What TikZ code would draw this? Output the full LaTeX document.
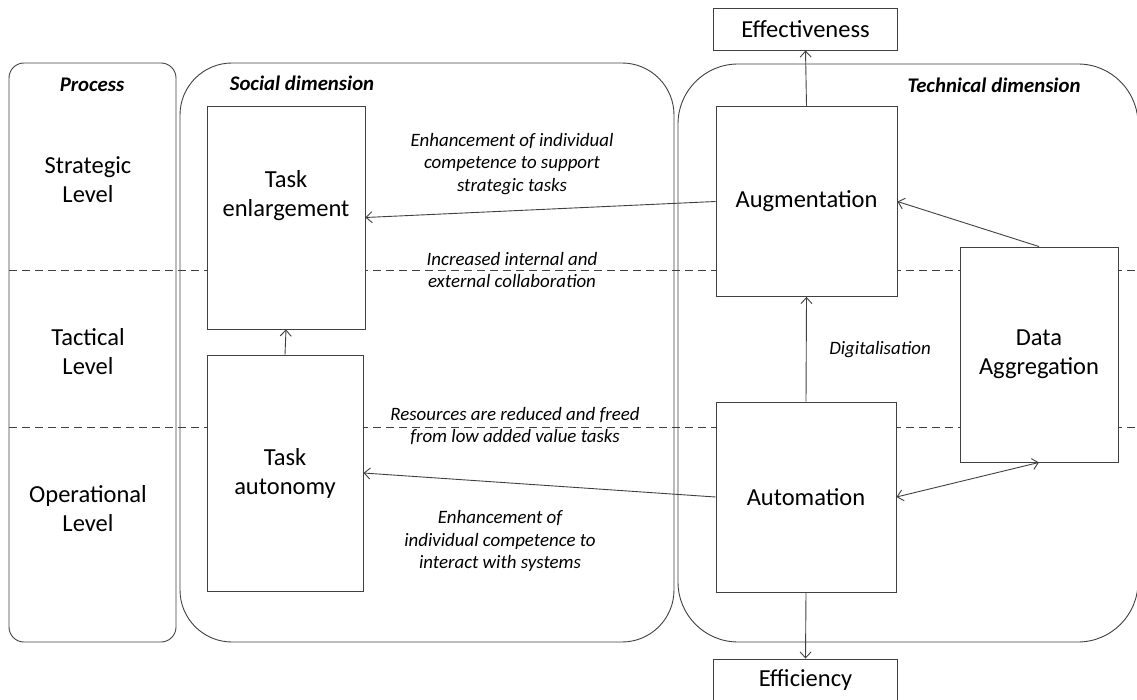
\documentclass[tikz,border=0pt]{standalone}
\usepackage{fontspec}
\setmainfont{Carlito}
\usetikzlibrary{arrows.meta}
\definecolor{ln}{HTML}{404040}
\tikzset{
  box/.style={draw=ln, line width=0.9pt, fill=white, inner sep=0pt},
  txt/.style={align=center, font=\fontsize{24.5}{29}\selectfont, inner sep=0pt},
  lbl/.style={align=center, font=\fontsize{18.9}{22.5}\selectfont\itshape, inner sep=0pt},
  hdr/.style={font=\fontsize{20.8}{24}\selectfont\bfseries\itshape, inner sep=0pt},
  cont/.style={draw=ln, line width=0.9pt},
  lvl/.style={draw=ln, line width=0.9pt, dash pattern=on 8pt off 5pt},
  arr/.style={draw=ln, line width=0.9pt, -{Straight Barb[length=6pt,width=11pt]}},
  darr/.style={draw=ln, line width=0.9pt, {Straight Barb[length=6pt,width=11pt]}-{Straight Barb[length=6pt,width=11pt]}}
}
\begin{document}
\begin{tikzpicture}[x=1pt,y=-1pt]
\useasboundingbox (0,0) rectangle (1137,700);
% level lines
\coordinate (l1a) at (9,270); \coordinate (l1b) at (1137,270);
\coordinate (l2a) at (9,427); \coordinate (l2b) at (1137,427);
\draw[lvl] (l1a) -- (l1b);
\draw[lvl] (l2a) -- (l2b);
% containers
\draw[cont, rounded corners=15pt] (9,63) rectangle (176,642);
\draw[cont, rounded corners=52pt] (180,63) rectangle (674,642);
\draw[cont, rounded corners=60pt] (678,64) rectangle (1138,642);
% headers
\node[hdr] (hproc) at (92,85) {Process};
\node[hdr] (hsoc) at (302,83) {Social dimension};
\node[hdr] (htech) at (994,85) {Technical dimension};
% process levels
\node[txt] (strat) at (88,180) {Strategic\\Level};
\node[txt] (tact) at (88,352) {Tactical\\Level};
\node[txt] (oper) at (88,509) {Operational\\Level};
% boxes
\node[box, minimum width=158pt, minimum height=223pt] (enl) at (286,217.5) {};
\node[txt] (enltext) at (286,196) {Task\\enlargement};
\node[box, txt, minimum width=156pt, minimum height=236pt] (aut) at (285,473) {Task\\autonomy};
\node[box, txt, minimum width=181pt, minimum height=190pt] (aug) at (806.5,201.5) {Augmentation};
\node[box, txt, minimum width=180pt, minimum height=190pt] (auto) at (806,497) {Automation};
\node[box, txt, minimum width=158pt, minimum height=215pt] (data) at (1039,354.5) {Data\\Aggregation};
\node[box, txt, minimum width=184pt, minimum height=42pt] (eff) at (805.5,29) {Effectiveness};
\node[box, txt, minimum width=184pt, minimum height=42pt] (effi) at (805.5,680) {Efficiency};
% connectors
\draw[arr] (aug.north) -- (eff.south);
\draw[arr] (auto.south) -- (effi.north);
\draw[arr] (auto.north) -- (aug.south);
\draw[arr] (aut.north) -- (enl.south);
\draw[arr] (aug.west) -- (enl.east);
\draw[arr] (auto.west) -- (aut.east);
\draw[arr] (data.north) -- (aug.east);
\draw[darr] (auto.east) -- (data.south);
% labels
\node[lbl] (l1) at (512,164) {Enhancement of individual\\competence to support\\strategic tasks};
\node[lbl] (l2) at (512,270) {Increased internal and\\external collaboration};
\node[lbl] (l3) at (515,426) {Resources are reduced and freed\\from low added value tasks};
\node[lbl] (l4) at (500,541) {Enhancement of\\individual competence to\\interact with systems};
\node[lbl] (dig) at (880,350) {Digitalisation};
\end{tikzpicture}
\end{document}
